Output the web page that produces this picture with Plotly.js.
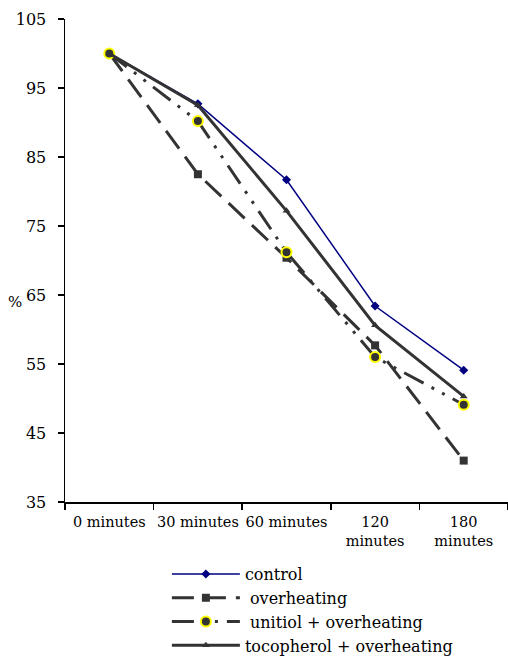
<!DOCTYPE html>
<html>
<head>
<meta charset="utf-8">
<script src="https://cdn.plot.ly/plotly-3.0.1.min.js"></script>
<style>html,body{margin:0;padding:0;background:#fff;}#chart{width:508px;height:657px;}</style>
</head>
<body>
<div id="chart"></div>
<script>
var categories = ["0 minutes", "30 minutes", "60 minutes", "120<br>minutes", "180<br>minutes"];
var control = [100, 92.7, 81.7, 63.4, 54.1];
var overheating = [100, 82.5, 70.4, 57.7, 41.0];
var unitiol = [100, 90.2, 71.2, 56.0, 49.1];
var tocopherol = [100, 92.5, 77.2, 60.6, 50.3];
var seriesNames = ["control", " overheating", " unitiol + overheating", "tocopherol + overheating"];

var dark = "#333333";
var traces = [
  {x: categories, y: control, name: seriesNames[0], mode: "lines+markers",
   line: {color: "#000080", width: 1.5}, marker: {symbol: "diamond", size: 7, color: "#000080"}},
  {x: categories, y: overheating, name: seriesNames[1], mode: "lines+markers",
   line: {color: dark, width: 3, dash: "22px,10px"}, marker: {symbol: "square", size: 8, color: dark}},
  {x: categories, y: unitiol, name: seriesNames[2], mode: "lines+markers",
   line: {color: dark, width: 3, dash: "22px,9px,3px,9px,3px,9px"},
   marker: {symbol: "circle", size: 10, color: dark, line: {color: "#FFFF00", width: 2}}},
  {x: categories, y: tocopherol, name: seriesNames[3], mode: "lines+markers",
   line: {color: dark, width: 3}, marker: {symbol: "triangle-up", size: 7, color: dark}}
];

var fam = "DejaVu Serif";
var layout = {
  width: 508, height: 657,
  margin: {l: 65, r: 0, t: 19, b: 155, autoexpand: false},
  paper_bgcolor: "#fff", plot_bgcolor: "#fff",
  font: {family: fam, color: "#000", size: 15},
  showlegend: true,
  legend: {orientation: "v", x: 0.23, xanchor: "left", y: -0.114, yanchor: "top",
           font: {family: fam, size: 16, color: "#000"}, itemwidth: 68,
           bgcolor: "rgba(0,0,0,0)"},
  xaxis: {type: "category", range: [-0.5, 4.5], showline: true, linecolor: "#000", linewidth: 1.5,
          ticks: "outside", tickson: "boundaries", ticklen: 6, tickcolor: "#000", tickwidth: 1.5,
          tickangle: 0, showgrid: false, zeroline: false, ticklabelstandoff: 6,
          tickfont: {family: fam, size: 14.5, color: "#000"}, fixedrange: true},
  yaxis: {range: [35, 105], tick0: 35, dtick: 10, showline: true, linecolor: "#000", linewidth: 1.5,
          ticks: "outside", ticklen: 6, tickcolor: "#000", tickwidth: 1.5, showgrid: false,
          zeroline: false, tickfont: {family: fam, size: 16, color: "#000"}, ticklabelstandoff: 8,
          fixedrange: true},
  annotations: [{text: "%", xref: "paper", yref: "paper", x: -0.112, y: 0.414, xanchor: "center",
                 yanchor: "middle", showarrow: false, font: {family: fam, size: 15, color: "#000"}}]
};
Plotly.newPlot("chart", traces, layout, {displayModeBar: false, staticPlot: true});
</script>
</body>
</html>
